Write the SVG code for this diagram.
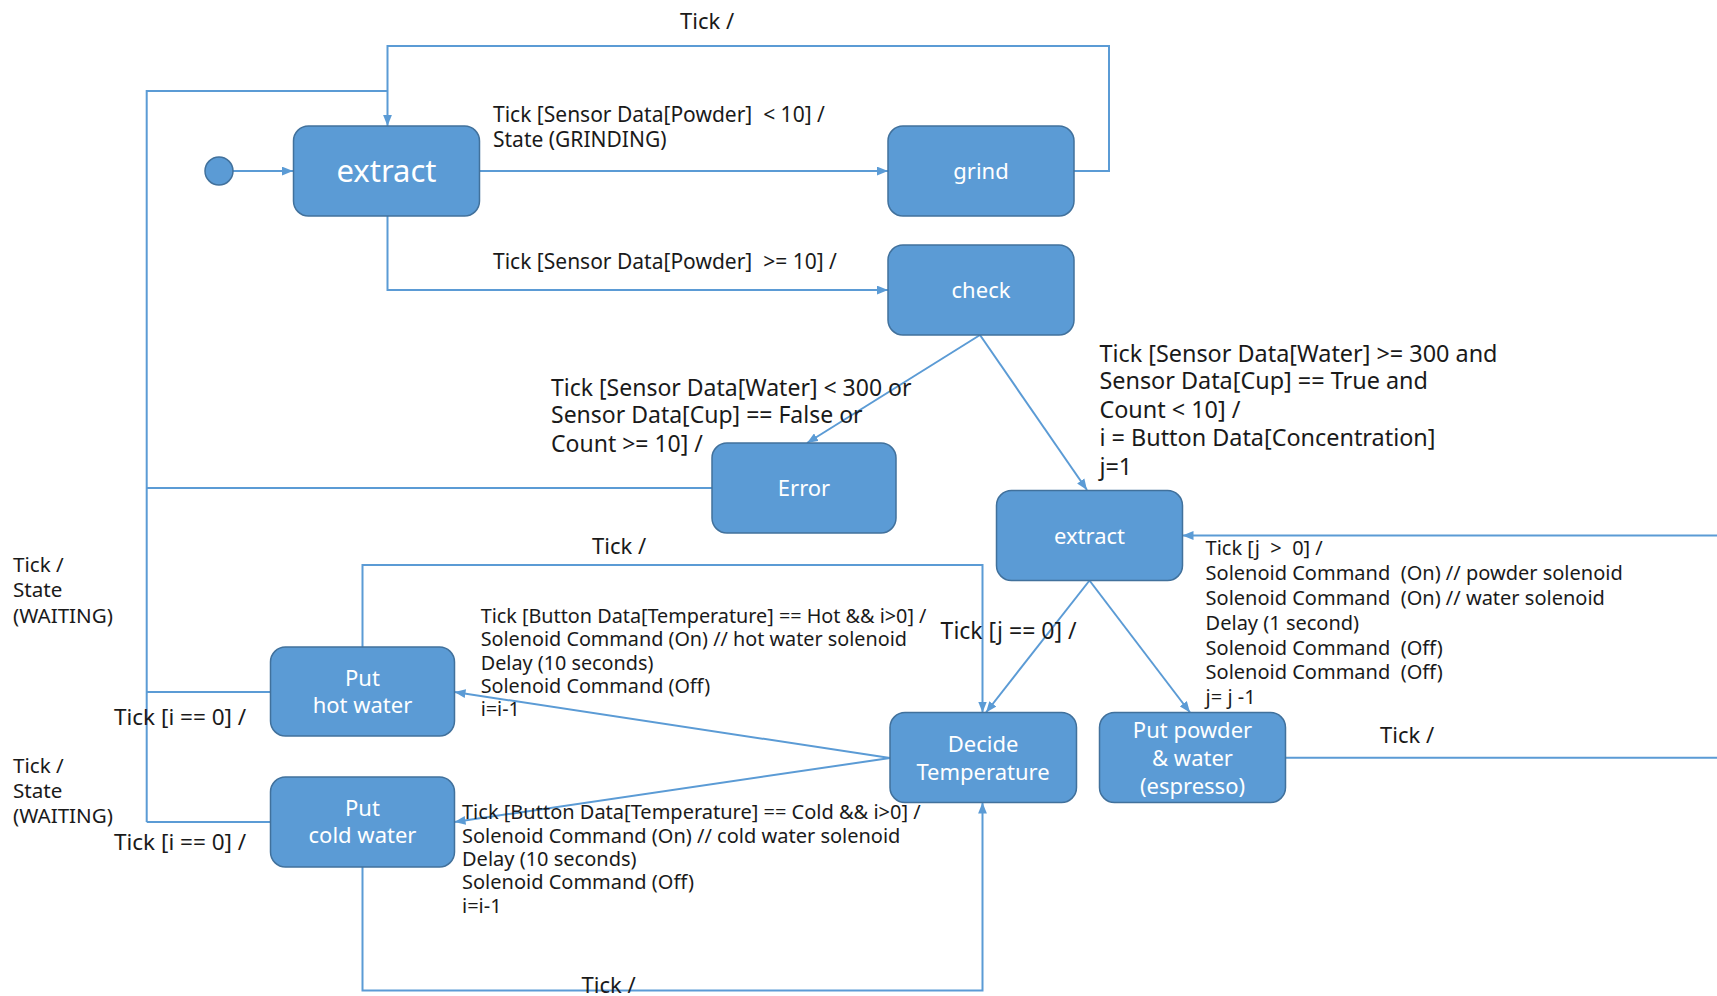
<svg xmlns="http://www.w3.org/2000/svg" width="1717" height="996" viewBox="0 0 1717 996">
<style>
.node rect{fill:#5B9BD5;stroke:#41719C;stroke-width:1.5}
.nt{font-family:"Noto Sans","Open Sans",sans-serif;fill:#FFFFFF;text-anchor:middle;font-size:22px}
.lbl{font-family:"Noto Sans","Open Sans",sans-serif;fill:#1a1a1a;white-space:pre}
.conn path{fill:none;stroke:#5B9BD5;stroke-width:2}
</style>
<defs>
<marker id="arr" viewBox="0 0 10 8" refX="10" refY="4" markerWidth="11" markerHeight="9" markerUnits="userSpaceOnUse" orient="auto">
<path d="M0,0 L10,4 L0,8 z" fill="#5B9BD5"/>
</marker>
</defs>
<rect width="1717" height="996" fill="#FFFFFF"/>

<g id="connectors" class="conn">
<path d="M233,171 H293" marker-end="url(#arr)"/>
<path d="M480,171 H888" marker-end="url(#arr)"/>
<path d="M1074,171 H1109 V46 H387.5 V126" marker-end="url(#arr)"/>
<path d="M387.5,216 V290 H888" marker-end="url(#arr)"/>
<path d="M980,335 L807,443" marker-end="url(#arr)"/>
<path d="M980,335 L1087,490" marker-end="url(#arr)"/>
<path d="M712,488 H146.7"/>
<path d="M146.7,822 V91 H387.5"/>
<path d="M270.5,692 H146.7"/>
<path d="M270.5,822 H146.7"/>
<path d="M362.5,647 V565 H982.5 V712.5" marker-end="url(#arr)"/>
<path d="M362.5,867 V990.5 H982.5 V802.5" marker-end="url(#arr)"/>
<path d="M890,758 L454.5,692" marker-end="url(#arr)"/>
<path d="M890,758 L454.5,822" marker-end="url(#arr)"/>
<path d="M1089.5,580.5 L986,712.5" marker-end="url(#arr)"/>
<path d="M1089.5,580.5 L1190,712.5" marker-end="url(#arr)"/>
<path d="M1285.5,757.7 H1730 V535.5 H1182.5" marker-end="url(#arr)"/>
</g>

<g id="initial" class="node"><circle cx="219" cy="171" r="14" fill="#5B9BD5" stroke="#41719C" stroke-width="1.5"/></g>
<g id="extract1" class="node"><rect x="293.5" y="126" width="186" height="90" rx="15"/><text class="nt" x="386.5" y="182" style="font-size:31px">extract</text></g>
<g id="grind" class="node"><rect x="888" y="126" width="186" height="90" rx="15"/><text class="nt" x="981" y="179">grind</text></g>
<g id="check" class="node"><rect x="888" y="245" width="186" height="90" rx="15"/><text class="nt" x="981" y="298">check</text></g>
<g id="error" class="node"><rect x="712" y="443" width="184" height="90" rx="15"/><text class="nt" x="804" y="496">Error</text></g>
<g id="extract2" class="node"><rect x="996.5" y="490.5" width="186" height="90" rx="15"/><text class="nt" x="1089.5" y="543.5">extract</text></g>
<g id="hotwater" class="node"><rect x="270.5" y="647" width="184" height="89" rx="15"/><text class="nt" x="362.5" y="685.5">Put</text><text class="nt" x="362.5" y="713">hot water</text></g>
<g id="coldwater" class="node"><rect x="270.5" y="777" width="184" height="90" rx="15"/><text class="nt" x="362.5" y="815.5">Put</text><text class="nt" x="362.5" y="843">cold water</text></g>
<g id="decide" class="node"><rect x="890" y="712.5" width="186.5" height="90" rx="15"/><text class="nt" x="983" y="752">Decide</text><text class="nt" x="983" y="779.5">Temperature</text></g>
<g id="powder" class="node"><rect x="1099.5" y="712.5" width="186" height="90" rx="15"/><text class="nt" x="1192.5" y="738">Put powder</text><text class="nt" x="1192.5" y="765.5">&amp; water</text><text class="nt" x="1192.5" y="793.5">(espresso)</text></g>

<g id="labels">
<text class="lbl" x="680" y="29" font-size="22">Tick /</text>
<text class="lbl" font-size="21"><tspan x="493" y="122">Tick [Sensor Data[Powder]  &lt; 10] /</tspan><tspan x="493" y="147">State (GRINDING)</tspan></text>
<text class="lbl" x="493" y="269" font-size="21">Tick [Sensor Data[Powder]  &gt;= 10] /</text>
<text class="lbl" font-size="23"><tspan x="551" y="395.5">Tick [Sensor Data[Water] &lt; 300 or</tspan><tspan x="551" y="423">Sensor Data[Cup] == False or</tspan><tspan x="551" y="451.5">Count &gt;= 10] /</tspan></text>
<text class="lbl" font-size="23.4"><tspan x="1099.4" y="361.5">Tick [Sensor Data[Water] &gt;= 300 and</tspan><tspan x="1099.4" y="389">Sensor Data[Cup] == True and</tspan><tspan x="1099.4" y="417.5">Count &lt; 10] /</tspan><tspan x="1099.4" y="446">i = Button Data[Concentration]</tspan><tspan x="1099.4" y="474.5">j=1</tspan></text>
<text class="lbl" x="592" y="554" font-size="22">Tick /</text>
<text class="lbl" font-size="20.6"><tspan x="13" y="572">Tick /</tspan><tspan x="13" y="597">State</tspan><tspan x="13" y="622.5">(WAITING)</tspan></text>
<text class="lbl" font-size="20.6"><tspan x="13" y="772.5">Tick /</tspan><tspan x="13" y="797.6">State</tspan><tspan x="13" y="822.8">(WAITING)</tspan></text>
<text class="lbl" x="114" y="725" font-size="22.5">Tick [i == 0] /</text>
<text class="lbl" x="114" y="850" font-size="22.5">Tick [i == 0] /</text>
<text class="lbl" font-size="19.8"><tspan x="480.7" y="623">Tick [Button Data[Temperature] == Hot &amp;&amp; i&gt;0] /</tspan><tspan x="480.7" y="646">Solenoid Command (On) // hot water solenoid</tspan><tspan x="480.7" y="670">Delay (10 seconds)</tspan><tspan x="480.7" y="693">Solenoid Command (Off)</tspan><tspan x="480.7" y="716">i=i-1</tspan></text>
<text class="lbl" font-size="20"><tspan x="462" y="819">Tick [Button Data[Temperature] == Cold &amp;&amp; i&gt;0] /</tspan><tspan x="462" y="843">Solenoid Command (On) // cold water solenoid</tspan><tspan x="462" y="866">Delay (10 seconds)</tspan><tspan x="462" y="889">Solenoid Command (Off)</tspan><tspan x="462" y="913">i=i-1</tspan></text>
<text class="lbl" x="940.6" y="639" font-size="23">Tick [j == 0] /</text>
<text class="lbl" font-size="20"><tspan x="1205.6" y="555">Tick [j  &gt;  0] /</tspan><tspan x="1205.6" y="580">Solenoid Command  (On) // powder solenoid</tspan><tspan x="1205.6" y="604.5">Solenoid Command  (On) // water solenoid</tspan><tspan x="1205.6" y="629.5">Delay (1 second)</tspan><tspan x="1205.6" y="654.5">Solenoid Command  (Off)</tspan><tspan x="1205.6" y="679">Solenoid Command  (Off)</tspan><tspan x="1205.6" y="704">j= j -1</tspan></text>
<text class="lbl" x="1380" y="743" font-size="22">Tick /</text>
<text class="lbl" x="581.5" y="992.5" font-size="22">Tick /</text>
</g>
</svg>
